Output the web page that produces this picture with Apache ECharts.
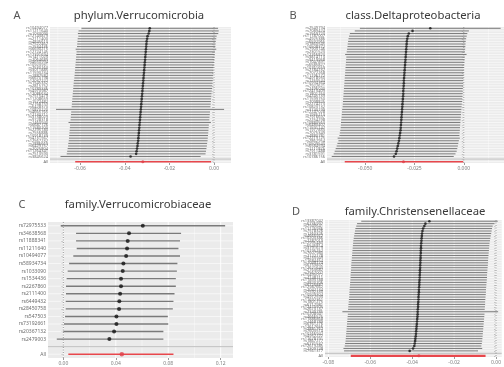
<!DOCTYPE html>
<html>
<head>
<meta charset="utf-8">
<script src="https://cdn.jsdelivr.net/npm/echarts@6/dist/echarts.min.js"></script>
<style>
html, body { margin: 0; padding: 0; background: #fff; }
#main { width: 504px; height: 367px; }
</style>
</head>
<body>
<div id="main"></div>
<script>
// ---- panel A : phylum.Verrucomicrobia (rows listed top -> bottom) ----
var snpA = ('rs10494077 rs11211640 rs1033090 rs12143879 rs2111400 rs4845610 rs7522462 rs1534436 rs6690215 rs12724145 ' +
    'rs17391694 rs1411023 rs2064689 rs4650994 rs10923931 rs7530163 rs3011885 rs11590234 rs1887582 rs6670198 ' +
    'rs12037222 rs1545332 rs2815752 rs10789336 rs4970987 rs12086634 rs7515479 rs11208659 rs1572482 rs2768759 ' +
    'rs6428370 rs10873220 rs4665765 rs12130711 rs3738029 rs9728318 rs1460940 rs6687726 rs11583200 rs2295180 ' +
    'rs7556886 rs10918139 rs4131567 rs12567232 rs1886669 rs6429757 rs2025804 rs11264341 rs7513590 rs3845624').split(' ');
var betaA = [-0.0288, -0.0290, -0.0293, -0.0298, -0.0300, -0.0302, -0.0303, -0.0304, -0.0305, -0.0306,
    -0.0307, -0.0308, -0.0309, -0.0310, -0.0311, -0.0312, -0.0313, -0.0314, -0.0315, -0.0316,
    -0.0317, -0.0318, -0.0319, -0.0320, -0.0321, -0.0322, -0.0323, -0.0324, -0.0325, -0.0326,
    -0.0327, -0.0328, -0.0329, -0.0330, -0.0331, -0.0332, -0.0333, -0.0334, -0.0335, -0.0336,
    -0.0337, -0.0338, -0.0339, -0.0340, -0.0342, -0.0343, -0.0345, -0.0347, -0.0349, -0.0374];
var loA = [-0.0594, -0.0607, -0.0610, -0.0608, -0.0611, -0.0612, -0.0613, -0.0614, -0.0620, -0.0616,
    -0.0617, -0.0618, -0.0619, -0.0620, -0.0621, -0.0622, -0.0623, -0.0624, -0.0625, -0.0626,
    -0.0628, -0.0629, -0.0630, -0.0631, -0.0632, -0.0633, -0.0634, -0.0635, -0.0636, -0.0637,
    -0.0638, -0.0708, -0.0640, -0.0641, -0.0642, -0.0643, -0.0652, -0.0645, -0.0646, -0.0647,
    -0.0648, -0.0649, -0.0650, -0.0651, -0.0653, -0.0654, -0.0656, -0.0658, -0.0660, -0.0688];
var hiA = [0.0018, 0.0021, 0.0019, 0.0012, 0.0010, 0.0008, 0.0007, 0.0006, 0.0010, 0.0004,
    0.0003, 0.0002, 0.0001, 0.0000, -0.0001, -0.0002, -0.0003, -0.0004, -0.0005, -0.0006,
    -0.0006, -0.0007, -0.0008, -0.0009, -0.0010, -0.0011, -0.0012, -0.0013, -0.0014, -0.0015,
    -0.0016, 0.0045, -0.0018, -0.0019, -0.0020, -0.0021, -0.0014, -0.0023, -0.0024, -0.0025,
    -0.0026, -0.0027, -0.0028, -0.0029, -0.0031, -0.0032, -0.0034, -0.0036, -0.0038, -0.0060];
var allA = [-0.0319, -0.0622, -0.0013];
var ticksA = [-0.06, -0.04, -0.02, 0.00];
var minorA = [-0.07, -0.05, -0.03, -0.01];

// ---- panel B : class.Deltaproteobacteria ----
var snpB = ('rs2549794 rs7089424 rs1569723 rs11187007 rs4925386 rs6592965 rs1860545 rs10508372 rs7903146 rs2301523 ' +
    'rs12766823 rs3814113 rs9419958 rs1047891 rs6585827 rs10761659 rs2784232 rs7072268 rs11196172 rs4918930 ' +
    'rs1250544 rs10994364 rs7922621 rs2496040 rs12413409 rs1801253 rs4245739 rs11599750 rs7098825 rs2274273 ' +
    'rs10823132 rs3740199 rs12247028 rs1935213 rs7916697 rs2254298 rs10883563 rs6480402 rs11591147 rs1977833 ' +
    'rs7075349 rs4880781 rs12219125 rs2862954 rs10509540 rs6584594 rs1111875 rs7911488 rs3781591 rs10786156').split(' ');
var betaB = [-0.0170, -0.0260, -0.0279, -0.0284, -0.0287, -0.0289, -0.0290, -0.0291, -0.0292, -0.0293,
    -0.0294, -0.0295, -0.0296, -0.0297, -0.0298, -0.0299, -0.0300, -0.0301, -0.0302, -0.0303,
    -0.0304, -0.0304, -0.0305, -0.0306, -0.0307, -0.0307, -0.0308, -0.0309, -0.0310, -0.0311,
    -0.0312, -0.0313, -0.0314, -0.0315, -0.0316, -0.0317, -0.0318, -0.0319, -0.0320, -0.0321,
    -0.0323, -0.0325, -0.0327, -0.0329, -0.0332, -0.0335, -0.0338, -0.0341, -0.0345, -0.0354];
var loB = [-0.0527, -0.0553, -0.0578, -0.0582, -0.0585, -0.0587, -0.0589, -0.0590, -0.0592, -0.0594,
    -0.0602, -0.0596, -0.0597, -0.0598, -0.0599, -0.0600, -0.0601, -0.0602, -0.0603, -0.0604,
    -0.0605, -0.0606, -0.0607, -0.0608, -0.0609, -0.0610, -0.0611, -0.0612, -0.0613, -0.0614,
    -0.0615, -0.0617, -0.0618, -0.0619, -0.0620, -0.0622, -0.0623, -0.0624, -0.0625, -0.0627,
    -0.0629, -0.0631, -0.0640, -0.0636, -0.0641, -0.0645, -0.0650, -0.0655, -0.0660, -0.0670];
var hiB = [0.0187, 0.0026, 0.0018, 0.0015, 0.0012, 0.0010, 0.0009, 0.0008, 0.0007, 0.0006,
    0.0014, 0.0005, 0.0004, 0.0003, 0.0002, 0.0001, 0.0000, 0.0000, -0.0001, -0.0002,
    -0.0003, -0.0003, -0.0004, -0.0005, -0.0006, -0.0006, -0.0007, -0.0008, -0.0009, -0.0010,
    -0.0011, -0.0012, -0.0013, -0.0014, -0.0015, -0.0016, -0.0017, -0.0018, -0.0019, -0.0020,
    -0.0021, -0.0022, -0.0020, -0.0025, -0.0028, -0.0030, -0.0033, -0.0036, -0.0042, -0.0051];
var allB = [-0.0306, -0.0604, -0.0003];
var ticksB = [-0.050, -0.025, 0.000];
var minorB = [-0.0625, -0.0375, -0.0125, 0.0125];

// ---- panel C : family.Verrucomicrobiaceae ----
var snpC = ['rs72975533', 'rs34638568', 'rs11888341', 'rs11211640', 'rs10494077', 'rs58934734', 'rs1033090', 'rs1534436',
    'rs2267860', 'rs2111400', 'rs6449432', 'rs28450758', 'rs547503', 'rs73192661', 'rs20367132', 'rs2479003'];
var betaC = [0.0606, 0.0501, 0.0491, 0.0486, 0.0479, 0.0458, 0.0453, 0.0440,
    0.0440, 0.0433, 0.0427, 0.0425, 0.0405, 0.0405, 0.0387, 0.0351];
var loC = [-0.0020, 0.0097, 0.0097, 0.0102, 0.0076, 0.0044, 0.0033, 0.0025,
    0.0020, 0.0020, 0.0018, 0.0018, 0.0013, 0.0005, 0.0000, -0.0050];
var hiC = [0.1234, 0.0898, 0.0890, 0.0878, 0.0890, 0.0870, 0.0866, 0.0858,
    0.0858, 0.0848, 0.0840, 0.0835, 0.0797, 0.0800, 0.0763, 0.0763];
var allC = [0.0446, 0.0038, 0.0840];
var ticksC = [0.00, 0.04, 0.08, 0.12];
var minorC = [0.02, 0.06, 0.10];

// ---- panel D : family.Christensenellaceae ----
var snpD = ('rs13387042 rs6736997 rs2943641 rs11125936 rs7578326 rs1260326 rs4665972 rs10203386 rs2287019 rs12995480 ' +
    'rs6545814 rs3791679 rs10195252 rs7607980 rs2122178 rs4233949 rs11684454 rs1049174 rs6759892 rs12621643 ' +
    'rs2163682 rs7567007 rs10490072 rs4148211 rs11893788 rs3820706 rs6725887 rs12987662 rs2042134 rs7592330 ' +
    'rs10929304 rs4972593 rs11692361 rs1801275 rs6717981 rs12470505 rs2673137 rs7349785 rs10208941 rs4666525 ' +
    'rs11886868 rs1468789 rs6761276 rs12617656 rs2881762 rs7603514 rs10166942 rs4952222 rs11678791 rs1867277 ' +
    'rs6731537 rs12619285 rs2309748 rs7561317').split(' ');
var betaD = [-0.0318, -0.0337, -0.0342, -0.0348, -0.0351, -0.0353, -0.0354, -0.0355, -0.0356, -0.0357,
    -0.0358, -0.0358, -0.0359, -0.0359, -0.0360, -0.0360, -0.0361, -0.0361, -0.0362, -0.0362,
    -0.0363, -0.0363, -0.0364, -0.0364, -0.0365, -0.0366, -0.0366, -0.0367, -0.0368, -0.0368,
    -0.0369, -0.0370, -0.0370, -0.0371, -0.0372, -0.0372, -0.0373, -0.0374, -0.0374, -0.0375,
    -0.0376, -0.0377, -0.0378, -0.0379, -0.0380, -0.0381, -0.0382, -0.0383, -0.0385, -0.0386,
    -0.0388, -0.0390, -0.0396, -0.0412];
var loD = [-0.0643, -0.0663, -0.0667, -0.0671, -0.0673, -0.0675, -0.0677, -0.0679, -0.0681, -0.0682,
    -0.0683, -0.0684, -0.0685, -0.0686, -0.0687, -0.0688, -0.0689, -0.0690, -0.0691, -0.0691,
    -0.0692, -0.0693, -0.0694, -0.0694, -0.0695, -0.0696, -0.0697, -0.0698, -0.0699, -0.0700,
    -0.0700, -0.0701, -0.0702, -0.0703, -0.0704, -0.0705, -0.0706, -0.0733, -0.0707, -0.0708,
    -0.0709, -0.0710, -0.0711, -0.0712, -0.0713, -0.0714, -0.0715, -0.0716, -0.0717, -0.0718,
    -0.0720, -0.0722, -0.0728, -0.0725];
var hiD = [0.0008, -0.0008, -0.0016, -0.0019, -0.0021, -0.0023, -0.0025, -0.0027, -0.0029, -0.0031,
    -0.0032, -0.0033, -0.0034, -0.0035, -0.0036, -0.0037, -0.0038, -0.0038, -0.0039, -0.0040,
    -0.0041, -0.0042, -0.0043, -0.0043, -0.0044, -0.0045, -0.0046, -0.0047, -0.0048, -0.0048,
    -0.0049, -0.0050, -0.0051, -0.0052, -0.0052, -0.0053, -0.0054, 0.0010, -0.0055, -0.0056,
    -0.0057, -0.0058, -0.0059, -0.0060, -0.0061, -0.0062, -0.0063, -0.0064, -0.0065, -0.0066,
    -0.0068, -0.0070, -0.0066, -0.0086];
var allD = [-0.0368, -0.0693, -0.0050];
var ticksD = [-0.08, -0.06, -0.04, -0.02, 0.00];
var minorD = [-0.07, -0.05, -0.03, -0.01];

var titles = ['phylum.Verrucomicrobia', 'class.Deltaproteobacteria', 'family.Verrucomicrobiaceae', 'family.Christensenellaceae'];
var letters = ['A', 'B', 'C', 'D'];

var myChart = echarts.init(document.getElementById('main'));

var panels = [
    {snp: snpA, b: betaA, lo: loA, hi: hiA, all: allA, ticks: ticksA, minor: minorA, digits: 2,
        grid: {left: 50, top: 27, width: 181, height: 136}, min: -0.0735, max: 0.0076,
        ylab: 4, bar: 1, dot: 2.6, red: 1.6, lx: 17, ly: 16, tx: 139, ty: 16},
    {snp: snpB, b: betaB, lo: loB, hi: hiB, all: allB, ticks: ticksB, minor: minorB, digits: 3,
        grid: {left: 327, top: 27, width: 178, height: 136}, min: -0.0694, max: 0.0204,
        ylab: 4, bar: 1, dot: 2.6, red: 1.6, lx: 293, ly: 16, tx: 413, ty: 16},
    {snp: snpC, b: betaC, lo: loC, hi: hiC, all: allC, ticks: ticksC, minor: minorC, digits: 2,
        grid: {left: 48, top: 222, width: 185, height: 136}, min: -0.0117, max: 0.1294,
        ylab: 5, bar: 1.4, dot: 4, red: 1.6, lx: 22, ly: 205, tx: 138, ty: 205},
    {snp: snpD, b: betaD, lo: loD, hi: hiD, all: allD, ticks: ticksD, minor: minorD, digits: 2,
        grid: {left: 325, top: 220, width: 180, height: 137}, min: -0.0816, max: 0.0027,
        ylab: 4, bar: 1, dot: 2.6, red: 2.2, lx: 296, ly: 212, tx: 415, ty: 212}
];

var grids = [], xAxes = [], yAxes = [], series = [], graphics = [];

panels.forEach(function (p, i) {
    var n = p.snp.length;
    // category axis runs bottom -> top: All, blank row, then snps
    var cats = ['All', ''].concat(p.snp.slice().reverse());
    var bars = [], pts = [], rows = [];
    for (var k = 0; k < n; k++) {
        var c = n - 1 - k + 2;
        bars.push([p.lo[k], p.hi[k], c, 0]);
        pts.push([p.b[k], c]);
    }
    bars.push([p.all[1], p.all[2], 0, 1]);
    for (var j = 0; j < cats.length; j++) rows.push([p.min, j]);
    var vlines = [];
    p.ticks.forEach(function (t) { vlines.push([t, 0, 1]); });
    p.minor.forEach(function (t) { vlines.push([t, 0, 0]); });

    grids.push(Object.assign({show: true, backgroundColor: '#EBEBEB', borderWidth: 0}, p.grid));
    xAxes.push({
        gridIndex: i, type: 'value', min: p.min, max: p.max,
        axisLine: {show: false},
        axisTick: {show: true, customValues: p.ticks, length: 2, lineStyle: {color: '#555', width: 0.6}},
        axisLabel: {customValues: p.ticks, fontSize: 5, color: '#808080', margin: 3, fontFamily: 'Noto Sans',
            formatter: (function (d) { return function (v) { return v.toFixed(d); }; })(p.digits)},
        splitLine: {show: false}
    });
    yAxes.push({
        gridIndex: i, type: 'category', data: cats,
        axisLine: {show: false},
        axisTick: {show: true, alignWithLabel: true, length: 2, lineStyle: {color: '#777', width: 0.5}},
        axisLabel: {interval: 0, fontSize: p.ylab, color: '#6E6E6E', margin: 2, fontFamily: 'Noto Sans'},
        splitLine: {show: false}
    });
    // white horizontal gridlines
    series.push({
        type: 'custom', xAxisIndex: i, yAxisIndex: i, silent: true, z: 1, data: rows,
        encode: {x: 0, y: 1},
        renderItem: function (params, api) {
            var cs = params.coordSys;
            var y = api.coord([p.min, api.value(1)])[1];
            return {type: 'line', shape: {x1: cs.x, y1: y, x2: cs.x + cs.width, y2: y},
                style: {stroke: '#FFFFFF', lineWidth: 0.6}};
        }
    });
    // white vertical gridlines
    series.push({
        type: 'custom', xAxisIndex: i, yAxisIndex: i, silent: true, z: 1, data: vlines,
        encode: {x: 0, y: 1},
        renderItem: function (params, api) {
            var cs = params.coordSys;
            var x = api.coord([api.value(0), 0])[0];
            return {type: 'line', shape: {x1: x, y1: cs.y, x2: x, y2: cs.y + cs.height},
                style: {stroke: '#FFFFFF', lineWidth: api.value(2) ? 0.9 : 0.4}};
        }
    });
    // dotted zero line and grey line at the blank row
    series.push({
        type: 'custom', xAxisIndex: i, yAxisIndex: i, silent: true, z: 2, data: [[0, 1]],
        encode: {x: 0, y: 1},
        renderItem: function (params, api) {
            var cs = params.coordSys;
            var x = api.coord([0, 0])[0];
            var y = api.coord([p.min, 1])[1];
            return {type: 'group', children: [
                {type: 'line', shape: {x1: cs.x, y1: y, x2: cs.x + cs.width, y2: y},
                    style: {stroke: '#BEBEBE', lineWidth: 1}},
                {type: 'line', shape: {x1: x, y1: cs.y, x2: x, y2: cs.y + cs.height},
                    style: {stroke: '#555', lineWidth: 0.6, lineDash: [1, 1.5]}}
            ]};
        }
    });
    // error bars
    series.push({
        type: 'custom', xAxisIndex: i, yAxisIndex: i, silent: true, z: 3, data: bars,
        encode: {x: [0, 1], y: 2},
        renderItem: function (params, api) {
            var a = api.coord([api.value(0), api.value(2)]);
            var b = api.coord([api.value(1), api.value(2)]);
            var isAll = api.value(3) === 1;
            return {type: 'line', shape: {x1: a[0], y1: a[1], x2: b[0], y2: b[1]},
                style: {stroke: isAll ? '#E8474C' : '#7A7A7A', lineWidth: isAll ? p.red : p.bar}};
        }
    });
    series.push({
        type: 'scatter', xAxisIndex: i, yAxisIndex: i, silent: true, z: 4, data: pts,
        symbol: 'circle', symbolSize: p.dot, itemStyle: {color: '#111'}
    });
    series.push({
        type: 'scatter', xAxisIndex: i, yAxisIndex: i, silent: true, z: 4, data: [[p.all[0], 0]],
        symbol: 'circle', symbolSize: p.dot + 0.5, itemStyle: {color: '#E0404A'}
    });

    graphics.push({type: 'text', x: p.lx, y: p.ly, style: {text: letters[i], fontSize: 11,
        fontFamily: 'Noto Sans', fill: '#555', align: 'center', verticalAlign: 'middle'}});
    graphics.push({type: 'text', x: p.tx, y: p.ty, style: {text: titles[i], fontSize: 11.3,
        fontFamily: 'Noto Sans', fill: '#3A3A3A', align: 'center', verticalAlign: 'middle'}});
});

var option = {
    animation: false,
    backgroundColor: '#FFFFFF',
    grid: grids,
    xAxis: xAxes,
    yAxis: yAxes,
    series: series,
    graphic: graphics
};
myChart.setOption(option);
</script>
</body>
</html>
